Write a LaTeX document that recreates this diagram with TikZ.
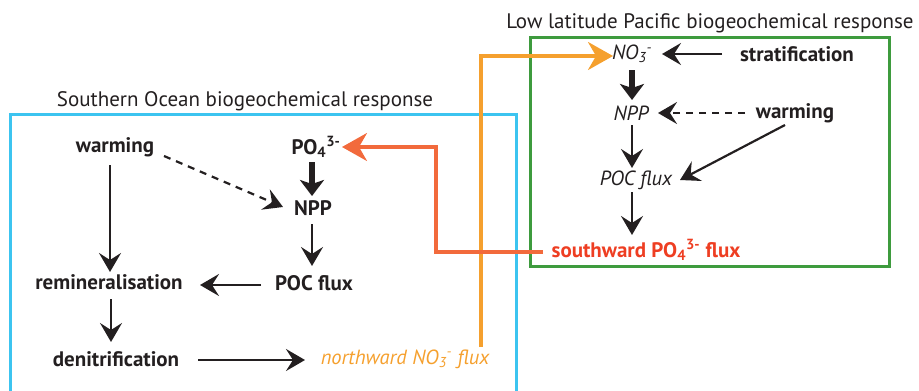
\documentclass[tikz,border=0pt]{standalone}
\usepackage{fontspec}
\setmainfont{PT Sans}
\usetikzlibrary{arrows.meta}
\definecolor{sob}{HTML}{3CC4F0}
\definecolor{llg}{HTML}{3E9B3E}
\definecolor{nor}{HTML}{F5A02E}
\definecolor{sred}{HTML}{F26A3C}
\definecolor{tred}{HTML}{EE3E22}
\definecolor{ink}{HTML}{231F20}
\tikzset{
  lbl/.style={font=\fontsize{21}{24}\selectfont\bfseries, text=ink, inner sep=1pt},
  ilbl/.style={font=\fontsize{20.5}{24}\selectfont\itshape, text=ink, inner sep=1pt},
  ttl/.style={font=\fontsize{21}{24}\selectfont, text=ink, inner sep=0pt},
  arr/.style={ink, line width=2.2pt, -{Stealth[length=19pt,width=22pt,inset=7pt]}},
  tarr/.style={ink, line width=5.5pt, -{Stealth[length=16pt,width=24pt,inset=4pt]}},
  darr/.style={arr, dash pattern=on 7pt off 6pt},
  boxline/.style={line width=3pt},
  flow/.style={line width=3.2pt, -{Stealth[length=25pt,width=28pt,inset=8pt]}}
}
\begin{document}
\begin{tikzpicture}[x=1pt,y=-1pt]
\useasboundingbox (0,0) rectangle (919,391);
\begin{scope}
\clip (0,0) rectangle (919,391);
\draw[sob, boxline] (10,114) rectangle (516,420);
\end{scope}
\draw[llg, boxline] (530,37) rectangle (889,266);
\node[ttl] (t1) at (245,101) {Southern Ocean biogeochemical response};
\node[ttl] (t2) at (710,23) {Low latitude Pacific biogeochemical response};
% left
\node[lbl] (w1) at (115,147) {warming};
\node[lbl] (po) at (316,147) {PO\textsubscript{4}\textsuperscript{3-}};
\node[lbl] (n1) at (313,208) {NPP};
\node[lbl] (p1) at (314,283) {POC flux};
\node[lbl] (rm) at (109,282) {remineralisation};
\node[lbl] (dn) at (116,359) {denitrification};
\node[ilbl, text=nor] (nf) at (405,359) {northward NO\textsubscript{3}\textsuperscript{-} flux};
% right
\node[ilbl] (no) at (632,54) {NO\textsubscript{3}\textsuperscript{-}};
\node[lbl] (st) at (797,54) {stratification};
\node[ilbl] (n2) at (631,113) {NPP};
\node[lbl] (w2) at (795,113) {warming};
\node[ilbl] (p2) at (636,180) {POC flux};
\node[lbl, text=tred] (sf) at (646,250) {southward PO\textsubscript{4}\textsuperscript{3-} flux};
% left arrows
\draw[arr] (110,165) -- (110,272);
\draw[arr] (111,299) -- (111,342);
\draw[arr] (198,360) -- (305,360);
\draw[arr] (261,285) -- (200,285);
\draw[arr] (312,224) -- (312,266);
\draw[tarr] (312,162) -- (312,196);
\draw[darr] (164,156) -- (283,207);
% right arrows
\draw[arr] (722,54) -- (662,54);
\draw[tarr] (632,70) -- (632,100);
\draw[darr] (745,113) -- (658,113);
\draw[arr] (785,125) -- (680,180);
\draw[arr] (632,125) -- (632,168);
\draw[arr] (632,192) -- (632,235);
% cross flows
\draw[nor, flow] (481,347) -- (481,56) -- (613,56);
\draw[sred, flow] (543,252) -- (436,252) -- (436,147) -- (342,147);
\end{tikzpicture}
\end{document}
